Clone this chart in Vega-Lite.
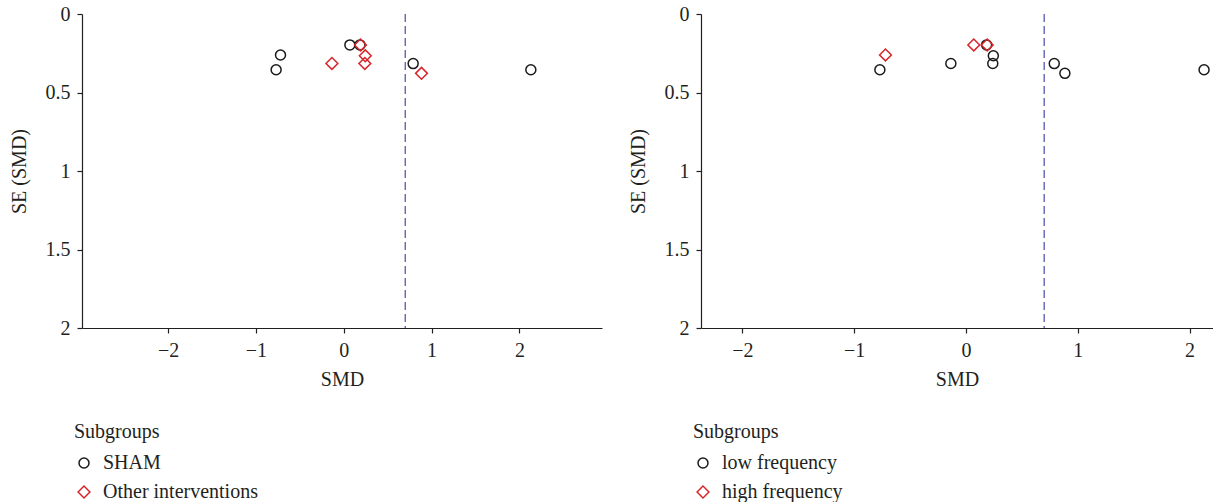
{
  "$schema": "https://vega.github.io/schema/vega-lite/v6.json",
  "background": "white",
  "padding": {"left": 9, "top": 4, "right": 0, "bottom": 0},
  "spacing": 26,
  "config": {
    "font": "Liberation Serif",
    "view": {"stroke": null},
    "axis": {
      "labelFont": "Liberation Serif",
      "titleFont": "Liberation Serif",
      "labelFontSize": 20,
      "titleFontSize": 20,
      "titleFontWeight": "normal",
      "labelColor": "#231f20",
      "titleColor": "#231f20",
      "domainColor": "#231f20",
      "tickColor": "#231f20",
      "domainWidth": 1.2,
      "tickWidth": 1.2,
      "tickSize": 5,
      "grid": false,
      "labelPadding": 7,
      "titlePadding": 9
    },
    "axisY": {"titlePadding": 16},
    "legend": {
      "orient": "none",
      "legendX": -8,
      "legendY": 408,
      "padding": 0,
      "titleFont": "Liberation Serif",
      "labelFont": "Liberation Serif",
      "titleFontSize": 20,
      "labelFontSize": 20,
      "titleFontWeight": "normal",
      "titleColor": "#231f20",
      "labelColor": "#231f20",
      "titlePadding": 11,
      "rowPadding": 9,
      "labelOffset": 9,
      "symbolStrokeWidth": 1.5
    }
  },
  "datasets": {
    "studies": [
      {"study": "A", "smd": -0.72, "se": 0.261, "intervention": "SHAM", "frequency": "high frequency"},
      {"study": "B", "smd": -0.77, "se": 0.355, "intervention": "SHAM", "frequency": "low frequency"},
      {"study": "C", "smd": 0.07, "se": 0.197, "intervention": "SHAM", "frequency": "high frequency"},
      {"study": "D", "smd": 0.185, "se": 0.197, "intervention": "SHAM", "frequency": "low frequency"},
      {"study": "E", "smd": 0.19, "se": 0.197, "intervention": "Other interventions", "frequency": "high frequency"},
      {"study": "F", "smd": 0.79, "se": 0.316, "intervention": "SHAM", "frequency": "low frequency"},
      {"study": "G", "smd": 2.13, "se": 0.355, "intervention": "SHAM", "frequency": "low frequency"},
      {"study": "H", "smd": 0.245, "se": 0.266, "intervention": "Other interventions", "frequency": "low frequency"},
      {"study": "I", "smd": 0.24, "se": 0.315, "intervention": "Other interventions", "frequency": "low frequency"},
      {"study": "J", "smd": -0.135, "se": 0.315, "intervention": "Other interventions", "frequency": "low frequency"},
      {"study": "K", "smd": 0.885, "se": 0.378, "intervention": "Other interventions", "frequency": "low frequency"}
    ]
  },
  "hconcat": [
    {
      "width": 520,
      "height": 314,
      "layer": [
        {
          "data": {"name": "studies"},
          "mark": {"type": "point", "filled": false, "strokeWidth": 1.5, "opacity": 1},
          "encoding": {
            "x": {"field": "smd", "type": "quantitative", "scale": {"domain": [-2.98, 2.94], "nice": false, "zero": false}, "axis": {"values": [-2, -1, 0, 1, 2], "format": "~g", "title": "SMD"}},
            "y": {"field": "se", "type": "quantitative", "scale": {"domain": [0, 2], "reverse": true, "nice": false, "zero": false}, "axis": {"values": [0, 0.5, 1, 1.5, 2], "format": "~g", "title": "SE (SMD)"}},
            "shape": {"field": "intervention", "type": "nominal", "title": "Subgroups", "scale": {"domain": ["SHAM", "Other interventions"], "range": ["circle", "diamond"]}},
            "color": {"field": "intervention", "type": "nominal", "title": "Subgroups", "scale": {"domain": ["SHAM", "Other interventions"], "range": ["#1a1a1a", "#d7262b"]}},
            "size": {"field": "intervention", "type": "nominal", "title": "Subgroups", "scale": {"domain": ["SHAM", "Other interventions"], "range": [100, 140]}}
          }
        },
        {
          "data": {"values": [{"pooled": 0.7}]},
          "mark": {"type": "rule", "strokeDash": [8, 4], "color": "#5858ad", "strokeWidth": 1.3},
          "encoding": {"x": {"field": "pooled", "type": "quantitative"}}
        }
      ]
    },
    {
      "width": 512,
      "height": 314,
      "layer": [
        {
          "data": {"name": "studies"},
          "mark": {"type": "point", "filled": false, "strokeWidth": 1.5, "opacity": 1},
          "encoding": {
            "x": {"field": "smd", "type": "quantitative", "scale": {"domain": [-2.37, 2.21], "nice": false, "zero": false}, "axis": {"values": [-2, -1, 0, 1, 2], "format": "~g", "title": "SMD"}},
            "y": {"field": "se", "type": "quantitative", "scale": {"domain": [0, 2], "reverse": true, "nice": false, "zero": false}, "axis": {"values": [0, 0.5, 1, 1.5, 2], "format": "~g", "title": "SE (SMD)"}},
            "shape": {"field": "frequency", "type": "nominal", "title": "Subgroups", "scale": {"domain": ["low frequency", "high frequency"], "range": ["circle", "diamond"]}},
            "color": {"field": "frequency", "type": "nominal", "title": "Subgroups", "scale": {"domain": ["low frequency", "high frequency"], "range": ["#1a1a1a", "#d7262b"]}},
            "size": {"field": "frequency", "type": "nominal", "title": "Subgroups", "scale": {"domain": ["low frequency", "high frequency"], "range": [100, 140]}}
          }
        },
        {
          "data": {"values": [{"pooled": 0.7}]},
          "mark": {"type": "rule", "strokeDash": [8, 4], "color": "#5858ad", "strokeWidth": 1.3},
          "encoding": {"x": {"field": "pooled", "type": "quantitative"}}
        }
      ]
    }
  ],
  "resolve": {"scale": {"x": "independent", "shape": "independent", "color": "independent", "size": "independent"}, "legend": {"shape": "independent", "color": "independent", "size": "independent"}}
}
